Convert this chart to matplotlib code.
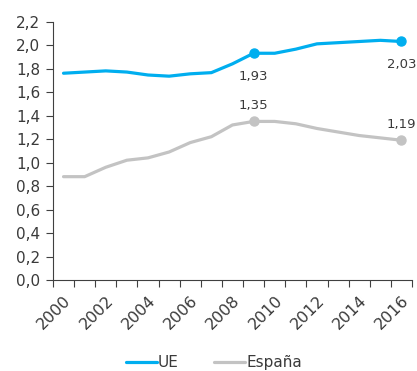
import numpy as np
import matplotlib.pyplot as plt

years = list(range(2000, 2017))
ue = [1.76, 1.77, 1.78, 1.77, 1.745, 1.735, 1.755, 1.765, 1.84, 1.93, 1.93, 1.965,
      2.01, 2.02, 2.03, 2.04, 2.03]
espana = [0.88, 0.88, 0.96, 1.02, 1.04, 1.09, 1.17, 1.22, 1.32, 1.35, 1.35, 1.33,
          1.29, 1.26, 1.23, 1.21, 1.19]
marked = [2009, 2016]
ue_labels = ["1,93", "2,03"]
es_labels = ["1,35", "1,19"]

blue = "#00AEEF"
grey = "#C3C3C3"
txt = "#3a3a3a"

plt.rcParams['font.family'] = ['DejaVu Sans']

fig = plt.figure(figsize=(4.17, 3.71), dpi=100)
ax = fig.add_axes([0.127, 0.245, 0.861, 0.697])

x = np.arange(len(years))
ax.plot(x, ue, color=blue, lw=2.3, label="UE", solid_capstyle="round")
ax.plot(x, espana, color=grey, lw=2.3, label="España", solid_capstyle="round")

for yr, lu, le in zip(marked, ue_labels, es_labels):
    i = years.index(yr)
    ax.plot(x[i], ue[i], "o", color=blue, ms=6.5)
    ax.plot(x[i], espana[i], "o", color=grey, ms=6.5)
    ax.annotate(lu, (x[i], ue[i]), xytext=(0, -12), textcoords="offset points",
                ha="center", va="top", fontsize=9.5, color=txt)
    ax.annotate(le, (x[i], espana[i]), xytext=(0, 7), textcoords="offset points",
                ha="center", va="bottom", fontsize=9.5, color=txt)

ax.set_xlim(-0.5, len(years) - 0.5)
ax.set_ylim(0, 2.2)
ax.set_yticks(np.arange(0, 2.21, 0.2))
ax.set_yticklabels([f"{v:.1f}".replace(".", ",") for v in np.arange(0, 2.21, 0.2)])

ax.set_xticks(np.arange(-0.5, len(years)))
ax.set_xticklabels([])
ax.set_xticks(x[::2], minor=True)
ax.set_xticklabels([str(y) for y in years[::2]], minor=True, rotation=45,
                   ha="right", rotation_mode="anchor")
ax.tick_params(axis="x", which="minor", length=0, pad=9, labelsize=11.5)
ax.tick_params(axis="both", which="major", length=5, color="#404040", direction="out")
ax.tick_params(axis="y", labelsize=11, pad=4)
ax.tick_params(labelcolor=txt, which="both")

for s in ["top", "right"]:
    ax.spines[s].set_visible(False)
for s in ["left", "bottom"]:
    ax.spines[s].set_color("#404040")

fig.legend(loc="center", bbox_to_anchor=(0.513, 0.022), ncol=2, frameon=False,
           fontsize=11, handlelength=2.0, columnspacing=2.3, handletextpad=0.1,
           labelcolor=txt)

fig.savefig("out.png", dpi=100)
